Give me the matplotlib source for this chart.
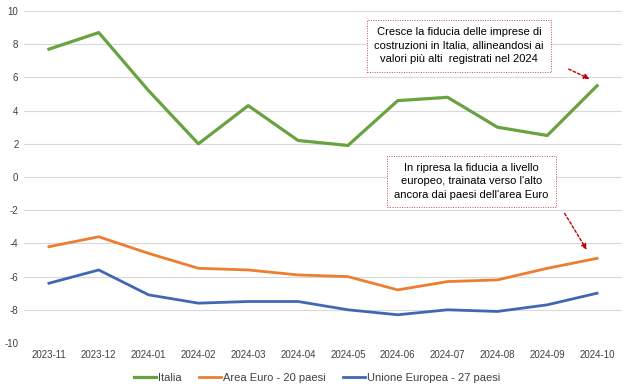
import matplotlib.pyplot as plt

plt.rcParams['font.family'] = ['Liberation Sans', 'DejaVu Sans']
plt.rcParams['axes.unicode_minus'] = False

mesi = ["2023-11", "2023-12", "2024-01", "2024-02", "2024-03", "2024-04",
        "2024-05", "2024-06", "2024-07", "2024-08", "2024-09", "2024-10"]
italia = [7.7, 8.7, 5.2, 2.0, 4.3, 2.2, 1.9, 4.6, 4.8, 3.0, 2.5, 5.5]
area_euro = [-4.2, -3.6, -4.6, -5.5, -5.6, -5.9, -6.0, -6.8, -6.3, -6.2, -5.5, -4.9]
ue27 = [-6.4, -5.6, -7.1, -7.6, -7.5, -7.5, -8.0, -8.3, -8.0, -8.1, -7.7, -7.0]

nota_italia = "Cresce la fiducia delle imprese di\ncostruzioni in Italia, allineandosi ai\nvalori più alti  registrati nel 2024"
nota_europa = "In ripresa la fiducia a livello\neuropeo, trainata verso l'alto\nancora dai paesi dell'area Euro"

fig = plt.figure(figsize=(6.27, 3.88), dpi=100)
ax = fig.add_axes([24 / 627, 1 - 343 / 388, 598 / 627, 332 / 388])

x = list(range(len(mesi)))
ax.plot(x, italia, color="#68A340", lw=2.3, label="Italia")
ax.plot(x, area_euro, color="#ED7D31", lw=2.0, label="Area Euro - 20 paesi")
ax.plot(x, ue27, color="#4267B2", lw=2.0, label="Unione Europea - 27 paesi")

ax.set_xlim(-0.5, len(mesi) - 0.5)
ax.set_ylim(-10, 10)
ax.set_yticks(range(-10, 11, 2))
ax.set_xticks(x)
ax.set_xticklabels(mesi)
ax.grid(axis="y", color="#D9D9D9", lw=0.8)
ax.set_axisbelow(True)
for s in ax.spines.values():
    s.set_visible(False)
ax.tick_params(length=0, labelsize=7, colors="#404040", pad=5)
ax.tick_params(axis="y", pad=4)

leg = ax.legend(loc="upper center", bbox_to_anchor=(0.49, -0.06), ncol=3,
                frameon=False, fontsize=8, handlelength=2.0,
                handletextpad=0.15, columnspacing=1.6)
for t in leg.get_texts():
    t.set_color("#404040")

# annotation boxes
def nota(testo, cx, cy, x0, y0, x1, y1):
    ax.text(cx, cy, testo, ha="center", va="center", fontsize=8,
            linespacing=1.45, color="#000000",
            bbox=dict(boxstyle="square,pad=0.65", fc="white", ec="#C0504D",
                      ls=(0, (1, 1.5)), lw=0.7))
    ax.annotate("", xy=(x1, y1), xytext=(x0, y0),
                arrowprops=dict(arrowstyle="-|>", color="#C00000", lw=1.0,
                                ls=(0, (2, 1.5)), mutation_scale=8))

nota(nota_italia, 8.23, 7.9, 10.38, 6.57, 10.9, 5.84)
nota(nota_europa, 8.48, -0.27, 10.32, -2.05, 10.82, -4.52)

fig.savefig("out.png", dpi=100)
